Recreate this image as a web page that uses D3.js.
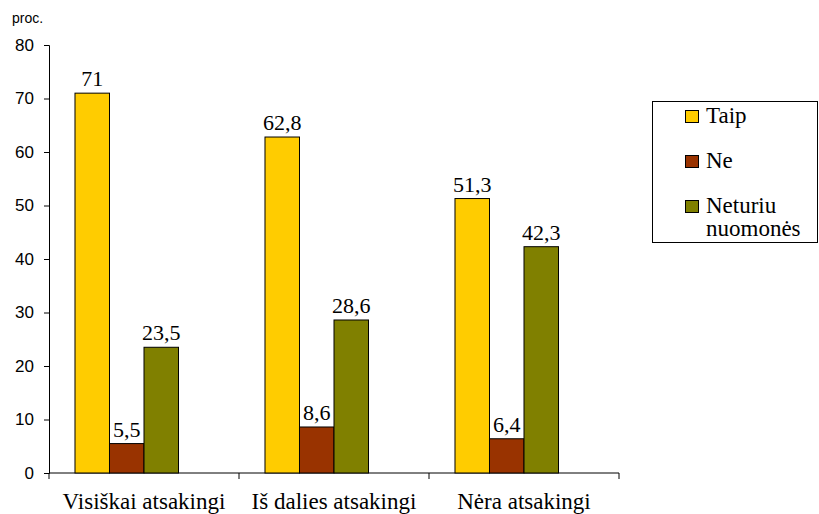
<!DOCTYPE html>
<html>
<head>
<meta charset="utf-8">
<script src="https://cdn.jsdelivr.net/npm/d3@7"></script>
<style>
  html, body { margin: 0; padding: 0; background: #fff; }
  svg { display: block; }
</style>
</head>
<body>
<svg id="chart" width="819" height="514"></svg>
<script>
// Survey answers by responsibility group (percent)
const categories = ["Visiškai atsakingi", "Iš dalies atsakingi", "Nėra atsakingi"];
const seriesNames = ["Taip", "Ne", "Neturiu nuomonės"];
const taip = [71, 62.8, 51.3];
const ne = [5.5, 8.6, 6.4];
const neturiu = [23.5, 28.6, 42.3];
const seriesColors = ["#FFCC00", "#993300", "#808000"];
const yTicks = [0, 10, 20, 30, 40, 50, 60, 70, 80];

const SERIF = "Liberation Serif";
const SANS = "Liberation Sans";

const seriesValues = [taip, ne, neturiu];
const rows = categories.map((c, i) => ({
  category: c,
  values: seriesNames.map((s, j) => ({ series: s, value: seriesValues[j][i], color: seriesColors[j] }))
}));

const svg = d3.select("#chart");
const plotLeft = 49, plotRight = 619;

const x = d3.scaleBand().domain(categories).range([plotLeft, plotRight]).padding(0);
const y = d3.scaleLinear().domain([0, 80]).range([473, 45]);

// four slots per group, three filled, centred as a block
const slotW = x.bandwidth() * 0.1816;
const groupOffset = (x.bandwidth() - 4 * slotW) / 2;
const xSub = d3.scaleBand().domain(seriesNames).range([0, slotW * 3]).padding(0);

const fmt = v => String(v).replace(".", ",");

// y axis
const yAxis = svg.append("g")
  .attr("transform", `translate(${plotLeft},0)`)
  .call(d3.axisLeft(y).tickValues(yTicks).tickSize(5).tickPadding(10));
yAxis.attr("font-family", SANS).attr("font-size", 17);
yAxis.select(".domain").attr("stroke", "#000");
yAxis.selectAll(".tick line").attr("stroke", "#000");
yAxis.selectAll(".tick text")
  .attr("font-family", SANS)
  .attr("font-size", 17)
  .attr("fill", "#000");

// x axis
const xAxisG = svg.append("g").attr("transform", `translate(0,${y(0)})`);
xAxisG.append("line")
  .attr("x1", plotLeft).attr("x2", plotRight)
  .attr("stroke", "#000");
const boundaries = categories.map(c => x(c)).concat([x(categories[categories.length - 1]) + x.bandwidth()]);
xAxisG.selectAll("line.tick").data(boundaries).join("line")
  .attr("class", "tick")
  .attr("x1", d => d).attr("x2", d => d)
  .attr("y1", 0).attr("y2", 6)
  .attr("stroke", "#000");
xAxisG.selectAll("text.cat").data(categories).join("text")
  .attr("class", "cat")
  .attr("x", d => x(d) + x.bandwidth() / 2)
  .attr("y", 36)
  .attr("text-anchor", "middle")
  .attr("font-family", SERIF)
  .attr("font-size", 23)
  .attr("fill", "#000")
  .text(d => d);

// unit label
svg.append("text")
  .attr("x", 12).attr("y", 23)
  .attr("font-family", SANS)
  .attr("font-size", 14)
  .attr("fill", "#000")
  .text("proc.");

// bars
const groups = svg.selectAll("g.group").data(rows).join("g")
  .attr("class", "group")
  .attr("transform", d => `translate(${x(d.category) + groupOffset},0)`);

groups.selectAll("rect").data(d => d.values).join("rect")
  .attr("x", d => xSub(d.series))
  .attr("y", d => y(d.value))
  .attr("width", xSub.bandwidth())
  .attr("height", d => y(0) - y(d.value))
  .attr("fill", d => d.color)
  .attr("stroke", "#000")
  .attr("stroke-width", 1);

groups.selectAll("text.val").data(d => d.values).join("text")
  .attr("class", "val")
  .attr("x", d => xSub(d.series) + xSub.bandwidth() / 2)
  .attr("y", d => y(d.value) - 7)
  .attr("text-anchor", "middle")
  .attr("font-family", SERIF)
  .attr("font-size", 22)
  .attr("fill", "#000")
  .text(d => fmt(d.value));

// legend
const legend = svg.append("g");
legend.append("rect")
  .attr("x", 652.5).attr("y", 101.5)
  .attr("width", 165).attr("height", 141)
  .attr("fill", "#fff").attr("stroke", "#000");

const legendItems = [
  { lines: ["Taip"], y: 123 },
  { lines: ["Ne"], y: 168 },
  { lines: ["Neturiu", "nuomonės"], y: 213 }
];
legendItems.forEach((it, i) => {
  legend.append("rect")
    .attr("x", 685.5).attr("y", it.y - 12.5)
    .attr("width", 13).attr("height", 12)
    .attr("fill", seriesColors[i]).attr("stroke", "#000");
  const t = legend.append("text")
    .attr("x", 706).attr("y", it.y)
    .attr("font-family", SERIF)
    .attr("font-size", 23)
    .attr("fill", "#000");
  it.lines.forEach((ln, k) => {
    t.append("tspan").attr("x", 706).attr("dy", k === 0 ? 0 : 23).text(ln);
  });
});
</script>
</body>
</html>
